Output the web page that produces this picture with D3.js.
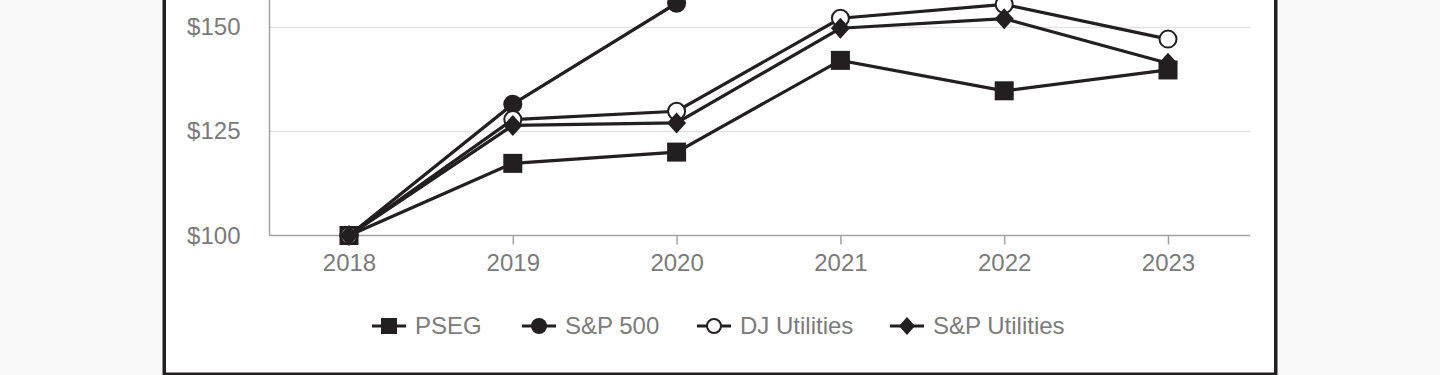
<!DOCTYPE html>
<html>
<head>
<meta charset="utf-8">
<script src="https://cdn.jsdelivr.net/npm/d3@7/dist/d3.min.js"></script>
<style>
  html, body { margin: 0; padding: 0; background: #f9f9f9; }
  svg { display: block; }
</style>
</head>
<body>
<div class="chart"></div>
<script>
// data
let years = ['2018', '2019', '2020', '2021', '2022', '2023'];
let pseg = [100, 117.3, 120.0, 142.0, 134.7, 139.7];
let sp500 = [100, 131.5, 155.7, 200.4, 164.1, 207.2];
let djUtil = [100, 127.8, 129.8, 152.1, 155.4, 147.1];
let spUtil = [100, 126.4, 127.0, 149.7, 152.0, 141.3];
let seriesNames = ['PSEG', 'S&P 500', 'DJ Utilities', 'S&P Utilities'];
let yTicks = [100, 125, 150];

let config = {
  width: 1440,
  height: 375,
  ink: '#231f20',
  axisColor: '#a3a3a3',
  gridColor: '#e4e4e4',
  textColor: '#7b7b7b',
  fontFamily: 'Arial, "Liberation Sans", sans-serif'
};

let series = [
  { name: seriesNames[0], values: pseg, marker: 'square' },
  { name: seriesNames[1], values: sp500, marker: 'dot' },
  { name: seriesNames[2], values: djUtil, marker: 'ring' },
  { name: seriesNames[3], values: spUtil, marker: 'diamond' }
];

let svg = d3.select('div.chart').append('svg')
  .attr('width', config.width)
  .attr('height', config.height);

// frame box (top runs off the picture)
svg.append('rect')
  .attr('x', 164.25)
  .attr('y', -100)
  .attr('width', 1111.5)
  .attr('height', 474.25)
  .attr('fill', '#ffffff')
  .attr('stroke', config.ink)
  .attr('stroke-width', 3.5);

let x = d3.scalePoint()
  .domain(years)
  .range([349, 1168]);

let y = d3.scaleLinear()
  .domain([100, 150])
  .range([235.5, 27]);

let plotLeft = 269.5, plotRight = 1250;

// grid
svg.append('g')
  .selectAll('line')
  .data(yTicks.filter(d => d > 100))
  .enter().append('line')
  .attr('x1', plotLeft)
  .attr('x2', plotRight)
  .attr('y1', d => Math.round(y(d)) + 0.5)
  .attr('y2', d => Math.round(y(d)) + 0.5)
  .attr('stroke', config.gridColor)
  .attr('stroke-width', 1.5);

// y axis
let yAxis = svg.append('g')
  .attr('transform', `translate(${plotLeft},0)`)
  .call(d3.axisLeft(y).tickValues(yTicks).tickSize(0).tickPadding(29).tickFormat(d => '$' + d));
yAxis.select('.domain')
  .attr('d', `M0,${y(100)}V0`)
  .attr('stroke', config.axisColor)
  .attr('stroke-width', 1.5);
yAxis.selectAll('text')
  .attr('fill', config.textColor)
  .attr('font-family', config.fontFamily)
  .attr('font-size', '24px');

// x axis
let xAxis = svg.append('g')
  .attr('transform', `translate(0,${y(100)})`)
  .call(d3.axisBottom(x).tickSize(9).tickPadding(9).tickSizeOuter(0));
xAxis.select('.domain')
  .attr('d', `M${plotLeft},0H${plotRight}`)
  .attr('stroke', config.axisColor)
  .attr('stroke-width', 1.5);
xAxis.selectAll('.tick line').attr('stroke', config.axisColor).attr('stroke-width', 1.5);
xAxis.selectAll('text')
  .attr('fill', config.textColor)
  .attr('font-family', config.fontFamily)
  .attr('font-size', '24px');

function drawMarker(g, type, size) {
  if (type === 'square') {
    g.append('rect')
      .attr('x', -size / 2).attr('y', -size / 2)
      .attr('width', size).attr('height', size)
      .attr('fill', config.ink);
  } else if (type === 'dot') {
    g.append('circle').attr('r', size / 2).attr('fill', config.ink);
  } else if (type === 'ring') {
    g.append('circle').attr('r', size / 2 - 1)
      .attr('fill', '#ffffff')
      .attr('stroke', config.ink)
      .attr('stroke-width', 2);
  } else {
    let w = size / 2, h = size / 2 + 1;
    g.append('path')
      .attr('d', `M0,${-h}L${w},0L0,${h}L${-w},0Z`)
      .attr('fill', config.ink);
  }
}

let line = d3.line()
  .x((d, i) => x(years[i]))
  .y(d => y(d));

let plot = svg.append('g');
series.forEach(s => {
  let g = plot.append('g');
  g.append('path')
    .datum(s.values)
    .attr('d', line)
    .attr('fill', 'none')
    .attr('stroke', config.ink)
    .attr('stroke-width', 3.2);
  s.values.forEach((v, i) => {
    let m = g.append('g').attr('transform', `translate(${x(years[i])},${y(v)})`);
    drawMarker(m, s.marker, 19);
  });
});

// legend
let legendX = [372, 522, 697, 890];
let legend = svg.append('g').attr('transform', 'translate(0,326)');
series.forEach((s, i) => {
  let g = legend.append('g').attr('transform', `translate(${legendX[i]},0)`);
  g.append('line')
    .attr('x1', 0).attr('x2', 34)
    .attr('stroke', config.ink)
    .attr('stroke-width', 3);
  let m = g.append('g').attr('transform', 'translate(17,0)');
  drawMarker(m, s.marker, 16);
  g.append('text')
    .attr('x', 43)
    .attr('dy', '0.35em')
    .attr('fill', config.textColor)
    .attr('font-family', config.fontFamily)
    .attr('font-size', '24px')
    .text(s.name);
});
</script>
</body>
</html>
